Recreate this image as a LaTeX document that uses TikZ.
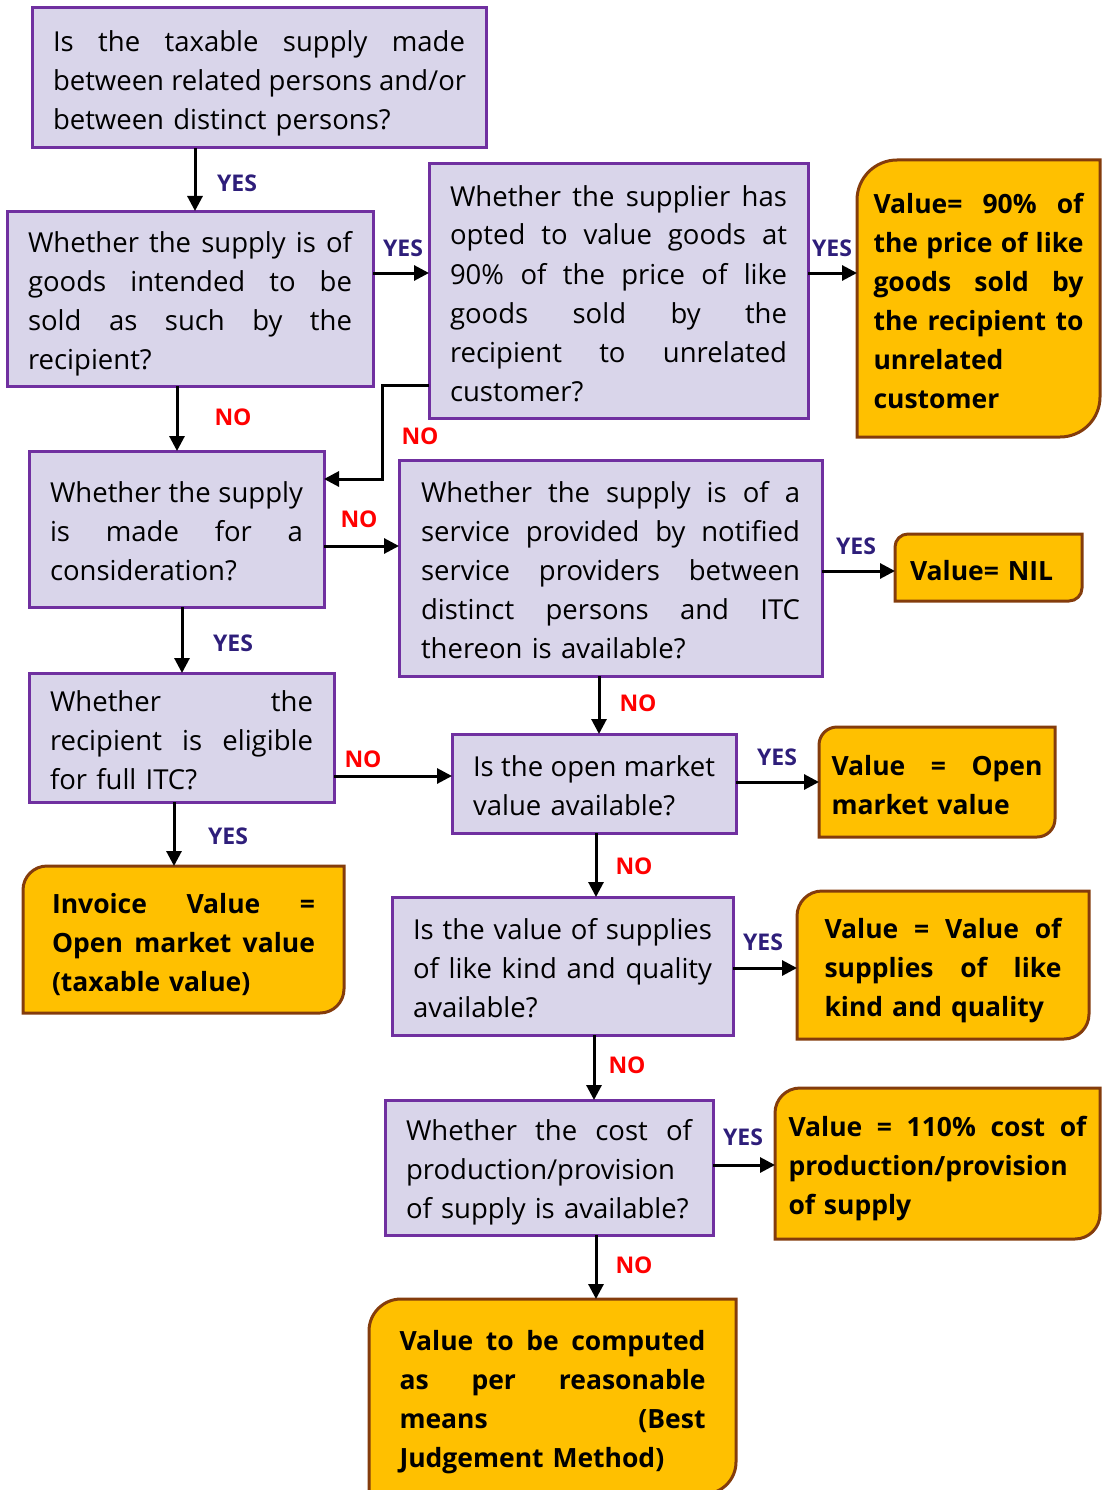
\documentclass[tikz,border=0pt]{standalone}
\usepackage{fontspec}
\setmainfont{Open Sans}
\usetikzlibrary{arrows.meta,backgrounds,calc}
\definecolor{qfill}{RGB}{217,213,234}
\definecolor{qdraw}{RGB}{112,48,160}
\definecolor{ofill}{RGB}{255,192,0}
\definecolor{odraw}{RGB}{132,60,12}
\definecolor{yescol}{RGB}{46,30,122}
\definecolor{nocol}{RGB}{255,0,0}
\newcommand\jl[1]{\hbox to\curtw{\spaceskip=\fontdimen2\font plus 1fil\relax #1}\break}
\newcommand\nl[1]{#1\hfil\break}
\newcommand\tst{\rule{0pt}{31pt}}
\newcommand\bst{\rule[-6pt]{0pt}{6pt}}
\newcommand\diagbg[2]{%
  \draw[obg] (#1.north east) -- ([yshift=#2pt]#1.south east)
    arc[start angle=0,end angle=-90,radius=#2pt] -- (#1.south west)
    -- ([yshift=-#2pt]#1.north west)
    arc[start angle=180,end angle=90,radius=#2pt] -- cycle;}
\tikzset{
  tw/.style={text width=#1pt, execute at begin node={\def\curtw{#1pt}}},
  qbox/.style={draw=qdraw, fill=qfill, line width=3pt, rectangle, inner ysep=0pt,
    outer sep=0pt, font=\fontsize{27.5}{39}\selectfont},
  abox/.style={rectangle, inner ysep=0pt, outer sep=0pt,
    font=\fontsize{26.5}{39}\selectfont\bfseries},
  obg/.style={draw=odraw, fill=ofill, line width=3pt},
  arr/.style={line width=3pt, -{Triangle[length=15pt,width=15pt]}},
  yeslab/.style={font=\fontsize{23}{26}\selectfont\bfseries, text=yescol, inner sep=0pt},
  nolab/.style={font=\fontsize{23}{26}\selectfont\bfseries, text=nocol, inner sep=0pt},
}
\begin{document}
\begin{tikzpicture}[x=1pt,y=1pt]
\useasboundingbox (0,0) rectangle (1102,-1490);

% question boxes
\node[qbox, minimum width=454pt, minimum height=140pt, tw=412, inner xsep=21pt] (A) at (259,-78)
  {\tst\jl{Is the taxable supply made}\jl{between related persons and/or}between distinct persons?\bst};
\node[qbox, minimum width=366pt, minimum height=175pt, tw=324, inner xsep=21pt] (B) at (190,-298.5)
  {\tst\jl{Whether the supply is of}\jl{goods intended to be}\jl{sold as such by the}recipient?\bst};
\node[qbox, minimum width=379pt, minimum height=254pt, tw=337, inner xsep=21pt] (C) at (618.5,-291)
  {\tst\jl{Whether the supplier has}\jl{opted to value goods at}\jl{90\% of the price of like}\jl{goods sold by the}\jl{recipient to unrelated}customer?\bst};
\node[qbox, minimum width=295pt, minimum height=156pt, tw=253, inner xsep=21pt] (E) at (176.5,-529)
  {\tst\jl{Whether the supply}\jl{is made for a}consideration?\bst};
\node[qbox, minimum width=423pt, minimum height=216pt, tw=379, inner xsep=22pt] (F) at (610.5,-568)
  {\tst\jl{Whether the supply is of a}\jl{service provided by notified}\jl{service providers between}\jl{distinct persons and ITC}thereon is available?\bst};
\node[qbox, minimum width=305pt, minimum height=129pt, tw=263, inner xsep=21pt] (H) at (181.5,-737.5)
  {\tst\jl{Whether the}\jl{recipient is eligible}for full ITC?\bst};
\node[qbox, minimum width=284pt, minimum height=99pt, tw=242, inner xsep=21pt] (I) at (594,-783.5)
  {\tst\jl{Is the open market}value available?\bst};
\node[qbox, minimum width=341pt, minimum height=138pt, tw=299, inner xsep=21pt] (L) at (562.5,-966)
  {\tst\jl{Is the value of supplies}\jl{of like kind and quality}available?\bst};
\node[qbox, minimum width=328pt, minimum height=135pt, tw=286, inner xsep=21pt] (N) at (549,-1167.5)
  {\tst\jl{Whether the cost of}\nl{production/provision}of supply is available?\bst};

% answer boxes
\node[abox, minimum width=243pt, minimum height=277pt, tw=210, inner xsep=16.5pt] (D) at (978.5,-298.5)
  {\tst\jl{Value= 90\% of}\jl{the price of like}\jl{goods sold by}\jl{the recipient to}\nl{unrelated}customer\bst};
\node[abox, minimum width=187pt, minimum height=67pt, tw=157, inner xsep=15pt] (G) at (988.5,-567.5)
  {\tst Value= NIL\bst};
\node[abox, minimum width=236pt, minimum height=110pt, tw=211, inner xsep=12.5pt] (J) at (937,-782)
  {\tst\jl{Value = Open}market value\bst};
\node[abox, minimum width=321pt, minimum height=147pt, tw=263, inner xsep=29pt] (K) at (183.5,-939.5)
  {\tst\jl{Invoice Value =}\jl{Open market value}(taxable value)\bst};
\node[abox, minimum width=292pt, minimum height=148pt, tw=237, inner xsep=27.5pt] (M) at (943,-965)
  {\tst\jl{Value = Value of}\jl{supplies of like}kind and quality\bst};
\node[abox, minimum width=325pt, minimum height=151pt, tw=298, inner xsep=13.5pt] (O) at (937.5,-1163.5)
  {\tst\jl{Value = 110\% cost of}\nl{production/provision}of supply\bst};
\node[abox, minimum width=367pt, minimum height=195pt, tw=306, inner xsep=30.5pt] (P) at (552.5,-1396.5)
  {\tst\jl{Value to be computed}\jl{as per reasonable}\jl{means (Best}Judgement Method)\bst};

\begin{scope}[on background layer]
  \diagbg{D}{40}
  \diagbg{G}{13}
  \diagbg{J}{18}
  \diagbg{K}{24}
  \diagbg{M}{25}
  \diagbg{O}{25}
  \diagbg{P}{32}
\end{scope}

% connectors
\coordinate (ab) at ([xshift=-64pt]A.south);
\draw[arr] (ab) -- (ab |- B.north);
\coordinate (bc) at ([yshift=25.5pt]B.east);
\draw[arr] (bc) -- (bc -| C.west);
\coordinate (cd) at ([yshift=18pt]C.east);
\draw[arr] (cd) -- (cd -| D.west);
\coordinate (be) at ([xshift=-13pt]B.south);
\draw[arr] (be) -- (be |- E.north);
\coordinate (ce1) at ([yshift=-94pt]C.west);
\coordinate (ce2) at ([yshift=50pt]E.east);
\draw[arr] (ce1) -- ++(-47,0) |- (ce2);
\coordinate (ef) at ([yshift=-17pt]E.east);
\draw[arr] (ef) -- (ef -| F.west);
\coordinate (fg) at ([yshift=-3pt]F.east);
\draw[arr] (fg) -- (fg -| G.west);
\coordinate (eh) at ([xshift=5.5pt]E.south);
\draw[arr] (eh) -- (eh |- H.north);
\coordinate (fi) at ([xshift=-11.5pt]F.south);
\draw[arr] (fi) -- (fi |- I.north);
\coordinate (hi) at ([yshift=-38.5pt]H.east);
\draw[arr] (hi) -- (hi -| I.west);
\coordinate (ij) at ([yshift=1.5pt]I.east);
\draw[arr] (ij) -- (ij -| J.west);
\coordinate (hk) at ([xshift=-7.5pt]H.south);
\draw[arr] (hk) -- (hk |- K.north);
\coordinate (il) at ([xshift=2pt]I.south);
\draw[arr] (il) -- (il |- L.north);
\coordinate (lm) at ([yshift=-2pt]L.east);
\draw[arr] (lm) -- (lm -| M.west);
\coordinate (ln) at ([xshift=31.5pt]L.south);
\draw[arr] (ln) -- (ln |- N.north);
\coordinate (nop) at ([yshift=2.5pt]N.east);
\draw[arr] (nop) -- (nop -| O.west);
\coordinate (np) at ([xshift=47pt]N.south);
\draw[arr] (np) -- (np |- P.north);

% labels
\node[yeslab] (y1) at (237,-183) {YES};
\node[yeslab] (y2) at (403,-248) {YES};
\node[yeslab] (y3) at (832,-248) {YES};
\node[nolab]  (n1) at (233,-417) {NO};
\node[nolab]  (n2) at (420,-436) {NO};
\node[nolab]  (n3) at (359,-519) {NO};
\node[yeslab] (y4) at (856,-546) {YES};
\node[yeslab] (y5) at (233,-643) {YES};
\node[nolab]  (n4) at (638,-703) {NO};
\node[nolab]  (n5) at (363,-759) {NO};
\node[yeslab] (y6) at (777,-757) {YES};
\node[yeslab] (y7) at (228,-836) {YES};
\node[nolab]  (n6) at (634,-866) {NO};
\node[yeslab] (y8) at (763,-942) {YES};
\node[nolab]  (n7) at (627,-1065) {NO};
\node[yeslab] (y9) at (743,-1137) {YES};
\node[nolab]  (n8) at (634,-1265) {NO};
\end{tikzpicture}
\end{document}
